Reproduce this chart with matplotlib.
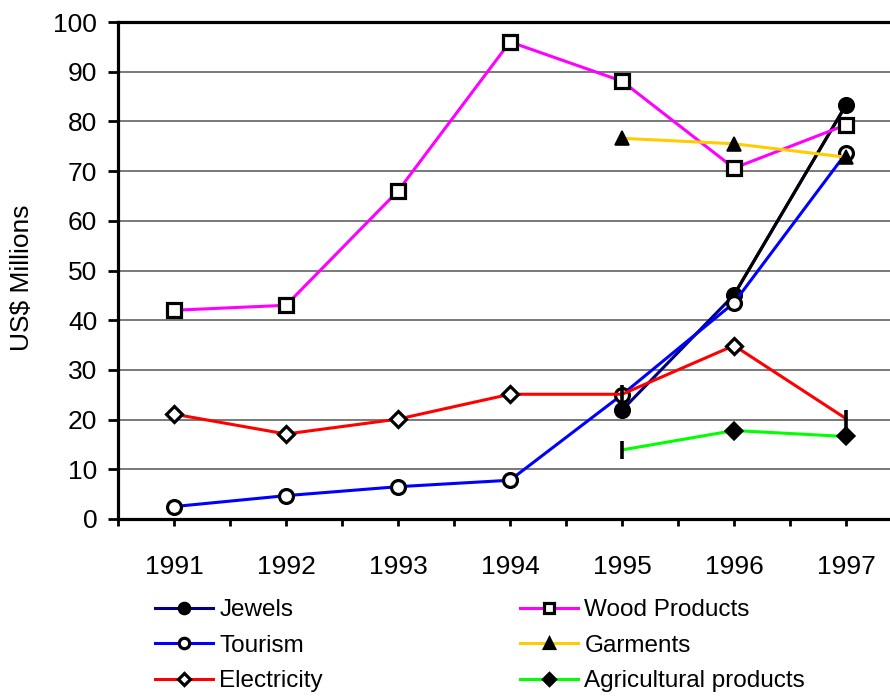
import numpy as np
import matplotlib
matplotlib.use("Agg")
import matplotlib.pyplot as plt
from matplotlib.lines import Line2D

plt.rcParams["font.family"] = ["Liberation Sans", "DejaVu Sans"]

years = ["1991", "1992", "1993", "1994", "1995", "1996", "1997"]
nan = np.nan
jewels = [nan, nan, nan, nan, 21.9, 45.1, 83.3]
tourism = [2.5, 4.7, 6.5, 7.8, 25.0, 43.5, 73.6]
electricity = [21.1, 17.1, 20.1, 25.1, 25.1, 34.9, 20.2]
wood = [42.0, 43.0, 66.0, 96.0, 88.1, 70.6, 79.3]
garments = [nan, nan, nan, nan, 76.6, 75.5, 72.8]
agri = [nan, nan, nan, nan, 13.9, 17.8, 16.6]

LW = 2.2
MS = 10
MEW = 2.3

fig = plt.figure(figsize=(8.9, 6.96), dpi=100)
ax = fig.add_axes([118 / 890, 1 - 519 / 696, 784 / 890, 497 / 696])
x = np.arange(len(years))

# gridlines
for v in range(10, 100, 10):
    ax.axhline(v, color="#555555", lw=1.1, zorder=1)

# Jewels: navy, last segment black
ax.plot(x, jewels, color="#000080", lw=LW, marker="o", ms=MS,
        mfc="black", mec="black", mew=MEW, zorder=3)
ax.plot(x[5:], jewels[5:], color="black", lw=LW, zorder=3)
ax.plot(x[5:], jewels[5:], ls="none", marker="o", ms=MS,
        mfc="black", mec="black", zorder=3)

ax.plot(x, tourism, color="#0000ff", lw=LW, marker="o", ms=MS,
        mfc="white", mec="black", mew=MEW, zorder=4)

# Electricity: diamonds, bar markers on 1995 and 1997
ax.plot(x, electricity, color="#ff0000", lw=LW, marker="D", ms=MS * 0.8,
        mfc="white", mec="black", mew=MEW, markevery=[0, 1, 2, 3, 5], zorder=5)
ax.plot(x, electricity, ls="none", marker="|", ms=MS * 1.3, mec="black",
        mew=2.6, markevery=[4, 6], zorder=5)

ax.plot(x, wood, color="#ff00ff", lw=LW, marker="s", ms=MS,
        mfc="white", mec="black", mew=MEW, zorder=6)
ax.plot(x, garments, color="#ffcc00", lw=LW, marker="^", ms=MS * 1.05,
        mfc="black", mec="black", mew=MEW * 0.5, zorder=7)

ax.plot(x, agri, color="#00ff00", lw=LW, marker="D", ms=MS * 0.95,
        mfc="black", mec="black", mew=MEW * 0.5, markevery=[5, 6], zorder=8)
ax.plot(x, agri, ls="none", marker="|", ms=MS * 1.3, mec="black",
        mew=2.6, markevery=[4], zorder=8)

ax.set_xlim(-0.5, 6.5)
ax.set_ylim(0, 100)
ax.set_yticks(range(0, 101, 10))
ax.set_xticks(x)
ax.set_xticklabels(years)
ax.set_xticks(np.arange(-0.5, 7, 1.0), minor=True)
ax.tick_params(axis="x", which="both", direction="out", length=5,
               width=2, color="black")
ax.tick_params(axis="x", which="major", labelsize=19, pad=21)
ax.tick_params(axis="y", direction="out", length=7, width=2,
               labelsize=19, pad=8)
for side in ("left", "bottom", "top", "right"):
    ax.spines[side].set_linewidth(2.3)
    ax.spines[side].set_color("black")

fig.text(22 / 890, 1 - 278 / 696, "US$ Millions", rotation=90,
         ha="center", va="center", fontsize=19)


def handle(color, marker, mfc, ms):
    return Line2D([], [], color=color, lw=LW, marker=marker, ms=ms,
                  mfc=mfc, mec="black", mew=MEW)


left = [handle("#000080", "o", "black", 7.5),
        handle("#0000ff", "o", "white", 7.5),
        handle("#ff0000", "D", "white", 6.5)]
right = [handle("#ff00ff", "s", "white", 7.5),
         handle("#ffcc00", "^", "black", 7.5),
         handle("#00ff00", "D", "black", 6.5)]

leg_kw = dict(loc="upper left", frameon=False, fontsize=17.5, borderpad=0,
              borderaxespad=0, handlelength=2.4, handletextpad=0.25,
              labelspacing=0.56)
leg1 = fig.legend(left, ["Jewels", "Tourism", "Electricity"],
                  bbox_to_anchor=(155 / 890, 1 - 599 / 696), **leg_kw)
leg2 = fig.legend(right, ["Wood Products", "Garments", "Agricultural products"],
                  bbox_to_anchor=(520 / 890, 1 - 599 / 696), **leg_kw)

fig.savefig("out.png", dpi=100, facecolor="white")
